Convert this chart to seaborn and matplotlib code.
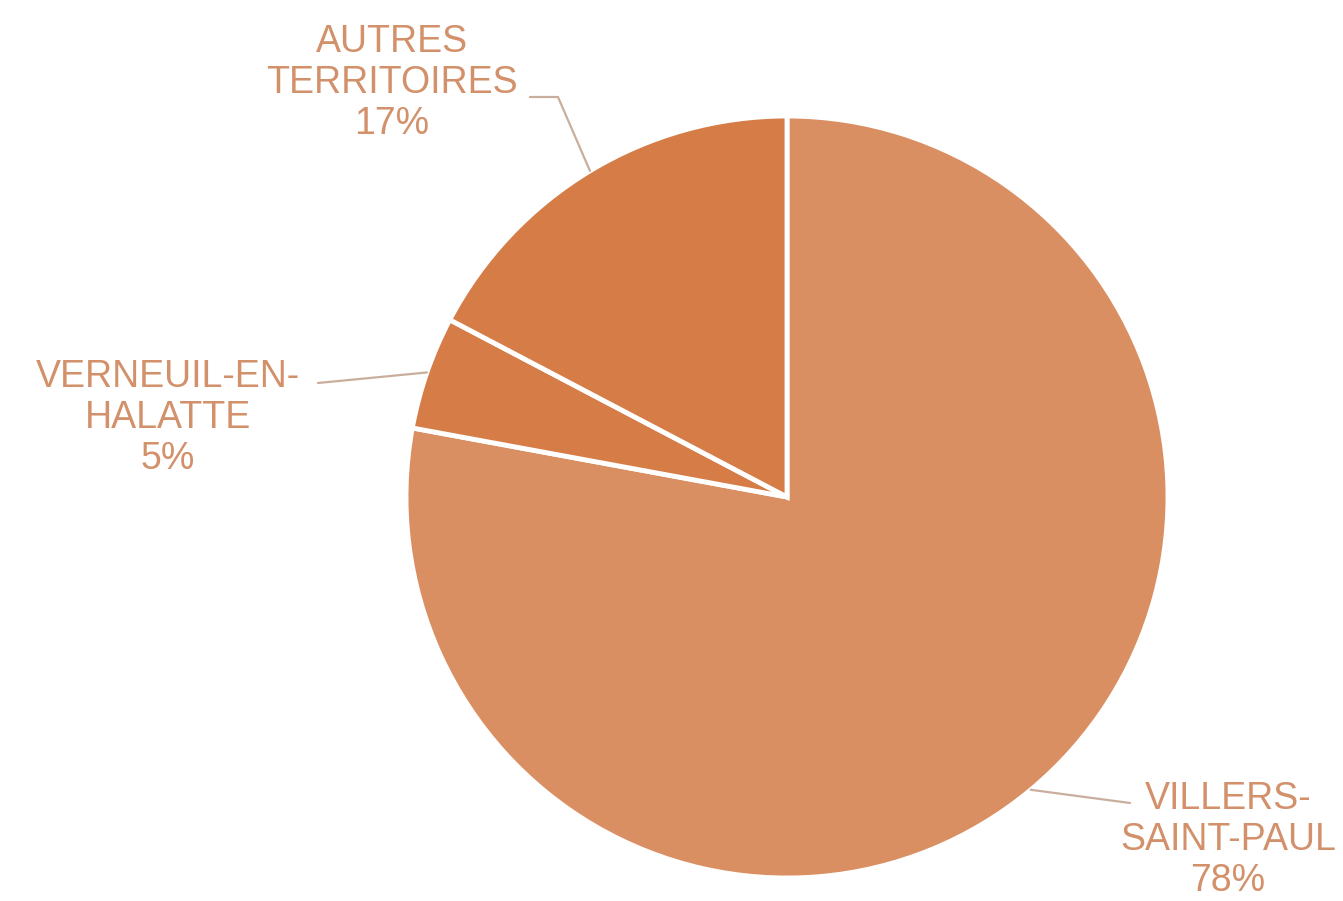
import numpy as np
import seaborn as sns
import matplotlib.pyplot as plt

# data
territoires = ["VILLERS-\nSAINT-PAUL", "VERNEUIL-EN-\nHALATTE", "AUTRES\nTERRITOIRES"]
parts = [77.9, 4.8, 17.3]
colors = ["#DA8F62", "#D67C47", "#D67C47"]

# label layout in pixels (text centre, then leader points from the pie outward)
label_xy = [(1228, 840), (168, 418), (392, 83)]
leader_pts = [[(1130, 803)], [(318, 383)], [(558, 97), (530, 97)]]

sns.set_theme(style="white")
plt.rcParams["font.family"] = ["Liberation Sans", "DejaVu Sans"]

W, H = 1343, 901
fig = plt.figure(figsize=(W / 100, H / 100), dpi=100)
ax = fig.add_axes([0, 0, 1, 1])

cx, cy, R = 787, H - 497, 381
wedges, _ = ax.pie(parts, colors=colors, startangle=90, counterclock=False,
                   center=(cx, cy), radius=R,
                   wedgeprops=dict(edgecolor="white", linewidth=3.5))
ax.set_xlim(0, W)
ax.set_ylim(0, H)
ax.set_aspect("equal")
ax.axis("off")

line_col = "#C9AE9E"
text_col = "#D3916B"
for w, name, val, (tx, ty), pts in zip(wedges, territoires, parts, label_xy, leader_pts):
    mid = np.deg2rad((w.theta1 + w.theta2) / 2)
    xs = [cx + R * np.cos(mid)] + [p[0] for p in pts]
    ys = [cy + R * np.sin(mid)] + [H - p[1] for p in pts]
    ax.plot(xs, ys, color=line_col, lw=1.6, solid_capstyle="round")
    ax.text(tx, H - ty, f"{name}\n{val:.0f}%", ha="center", va="center",
            color=text_col, fontsize=27, linespacing=1.18)

fig.savefig("out.png", dpi=100, facecolor="white")
